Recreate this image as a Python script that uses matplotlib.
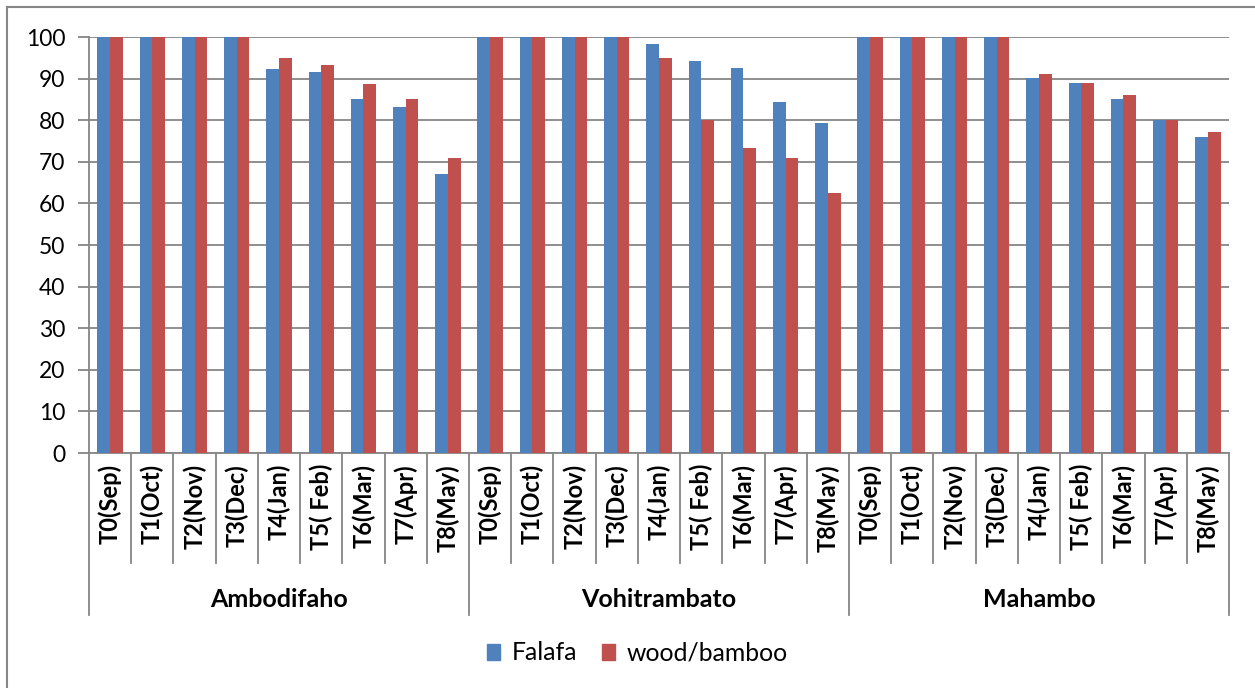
import numpy as np
import matplotlib.pyplot as plt
from matplotlib.lines import Line2D
from matplotlib.patches import Patch

plt.rcParams['font.family'] = ['Lato', 'DejaVu Sans']

sites = ['Ambodifaho', 'Vohitrambato', 'Mahambo']
months = ['T0(Sep)', 'T1(Oct)', 'T2(Nov)', 'T3(Dec)', 'T4(Jan)',
          'T5( Feb)', 'T6(Mar)', 'T7(Apr)', 'T8(May)']

falafa = [100, 100, 100, 100, 92.4, 91.7, 85.2, 83.1, 67.1,
          100, 100, 100, 100, 98.4, 94.3, 92.6, 84.4, 79.4,
          100, 100, 100, 100, 90.2, 89.0, 85.2, 80.1, 76.0]
wood = [100, 100, 100, 100, 95.0, 93.3, 88.8, 85.2, 70.9,
        100, 100, 100, 100, 95.0, 80.1, 73.4, 70.9, 62.5,
        100, 100, 100, 100, 91.2, 89.0, 86.1, 80.1, 77.2]

blue = '#4F81BD'
red = '#C0504D'
grey = '#868686'

W, H = 1255, 688
fig = plt.figure(figsize=(W / 100, H / 100), dpi=100)
ax = fig.add_axes([89 / W, 1 - 453 / H, (1229 - 89) / W, (453 - 37) / H])

x = np.arange(len(falafa))
bw = 0.3
ax.bar(x - bw / 2, falafa, bw, color=blue, zorder=3)
ax.bar(x + bw / 2, wood, bw, color=red, zorder=3)

ax.set_xlim(-0.5, len(falafa) - 0.5)
ax.set_ylim(0, 100)
ax.set_yticks(range(0, 101, 10))
ax.grid(axis='y', color=grey, linewidth=1.3, zorder=0)
ax.set_axisbelow(True)

for s in ['top', 'right']:
    ax.spines[s].set_visible(False)
for s in ['left', 'bottom']:
    ax.spines[s].set_color(grey)
    ax.spines[s].set_linewidth(1.3)

ax.tick_params(axis='y', length=8, width=1.3, color=grey, labelsize=16.5, pad=9)
ax.set_xticks(x)
ax.set_xticklabels(months * len(sites), rotation=90, fontweight='bold', fontsize=17)
ax.tick_params(axis='x', length=0, pad=8)

# category separators of the two-level axis
tr = ax.get_xaxis_transform()
n = len(months)
for b in range(len(falafa) + 1):
    edge = b - 0.5
    low = -0.389 if b % n == 0 else -0.264
    ax.plot([edge, edge], [0, low], color=grey, lw=1.3, transform=tr, clip_on=False)

for i, site in enumerate(sites):
    ax.text(i * n + (n - 1) / 2, -0.353, site, transform=tr, ha='center', va='center',
            fontweight='bold', fontsize=18)

handles = [Patch(color=blue, label='Falafa'), Patch(color=red, label='wood/bamboo')]
fig.legend(handles=handles, loc='center', bbox_to_anchor=(637 / W, 1 - 653 / H), ncol=2,
           frameon=False, fontsize=17.8, handlelength=0.55, handleheight=0.6,
           handletextpad=0.45, columnspacing=1.0)

# outer chart border
fig.add_artist(Line2D([7 / W, 7 / W], [0, 1 - 7 / H], color=grey, lw=1.5))
fig.add_artist(Line2D([7 / W, 1], [1 - 7 / H, 1 - 7 / H], color=grey, lw=1.5))

fig.savefig('out.png', dpi=100)
